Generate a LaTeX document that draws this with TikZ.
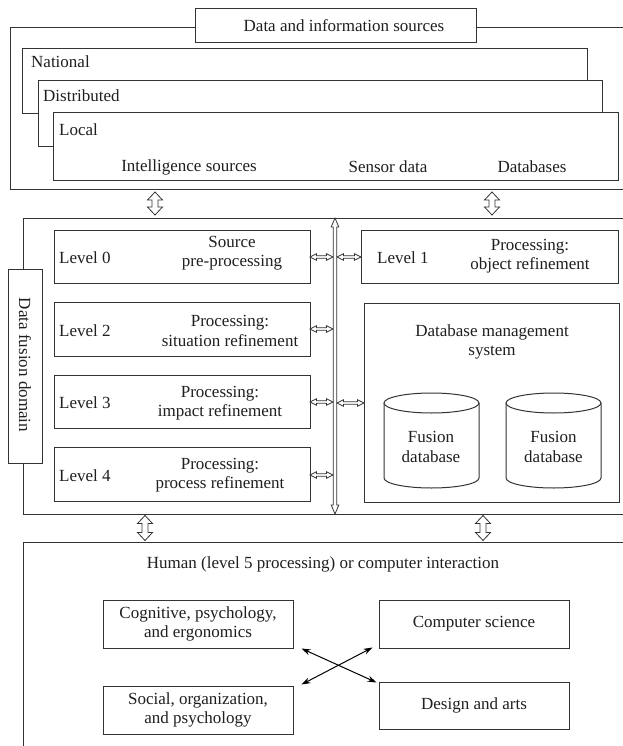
\documentclass[tikz,border=0pt]{standalone}
\usepackage{fontspec}
\setmainfont{Liberation Serif}
\usetikzlibrary{arrows.meta}
\definecolor{linec}{gray}{0.2}
\definecolor{txtc}{gray}{0.12}
% vertical hollow double arrow: cx, cy, half length, half shaft, half head, head length
\newcommand{\vdarrow}[7][]{%
  \draw[arrline,#1] ({#2},{#3-#4}) -- ({#2+#6},{#3-#4+#7}) -- ({#2+#5},{#3-#4+#7})
    -- ({#2+#5},{#3+#4-#7}) -- ({#2+#6},{#3+#4-#7}) -- ({#2},{#3+#4})
    -- ({#2-#6},{#3+#4-#7}) -- ({#2-#5},{#3+#4-#7}) -- ({#2-#5},{#3-#4+#7})
    -- ({#2-#6},{#3-#4+#7}) -- cycle;}
% horizontal hollow double arrow: cx, cy, half length, half shaft, half head, head length
\newcommand{\hdarrow}[7][]{%
  \draw[arrline,#1] ({#2-#4},{#3}) -- ({#2-#4+#7},{#3-#6}) -- ({#2-#4+#7},{#3-#5})
    -- ({#2+#4-#7},{#3-#5}) -- ({#2+#4-#7},{#3-#6}) -- ({#2+#4},{#3})
    -- ({#2+#4-#7},{#3+#6}) -- ({#2+#4-#7},{#3+#5}) -- ({#2-#4+#7},{#3+#5})
    -- ({#2-#4+#7},{#3+#6}) -- cycle;}
\begin{document}
\begin{tikzpicture}[x=1pt,y=-1pt,
  font=\fontsize{17}{19.5}\selectfont,
  every node/.style={text=txtc},
  box/.style={draw=linec, line width=1pt, fill=white, rectangle, inner sep=0pt},
  lbl/.style={inner sep=0pt, align=center},
  llbl/.style={inner sep=0pt, anchor=west},
  arrline/.style={draw=linec, line width=0.8pt, fill=white, line join=miter},
  xarr/.style={draw=black, line width=1pt, {Stealth[length=9pt,width=6pt]}-{Stealth[length=9pt,width=6pt]}}
]
\useasboundingbox (0,0) rectangle (623,746);
\clip (0,0) rectangle (623,746);

% ---------- top section ----------
\node[box, minimum width=630, minimum height=161] (topouter) at (325,108.5) {};
\node[box, minimum width=281, minimum height=34] (title) at (335.5,26) {};
\node[lbl] (titletxt) at (344,26) {Data and information sources};
\node[box, minimum width=565, minimum height=65] (national) at (304.5,81.5) {};
\node[llbl] (nattxt) at (31,62) {National};
\node[box, minimum width=564, minimum height=66] (distributed) at (320,114) {};
\node[llbl] (disttxt) at (43,96) {Distributed};
\node[box, minimum width=565, minimum height=67] (local) at (335.5,146.5) {};
\node[llbl] (loctxt) at (59,130) {Local};
\node[lbl] (intel) at (189,167) {Intelligence sources};
\node[lbl] (sensor) at (388,167) {Sensor data};
\node[lbl] (dbs) at (532,167) {Databases};

\vdarrow{155}{203.5}{11.5}{3}{7.5}{8}
\vdarrow{492}{203.5}{11.5}{3}{7.5}{8}

% ---------- middle section ----------
\node[box, minimum width=617, minimum height=296] (midouter) at (331.5,366) {};
\node[box, minimum width=34, minimum height=194] (dfd) at (25,366) {};
\node[lbl, rotate=-90] (dfdtxt) at (25,365) {Data fusion domain};

\node[box, minimum width=256, minimum height=53] (L0) at (182,256.5) {};
\node[llbl] (L0a) at (59,258) {Level 0};
\node[lbl] (L0b) at (232,253) {Source\\pre-processing};

\node[box, minimum width=256, minimum height=54] (L2) at (182,329) {};
\node[llbl] (L2a) at (59,331) {Level 2};
\node[lbl] (L2b) at (230,331) {Processing:\\situation refinement};

\node[box, minimum width=256, minimum height=53] (L3) at (182,401.5) {};
\node[llbl] (L3a) at (59,403) {Level 3};
\node[lbl] (L3b) at (220,403) {Processing:\\impact refinement};

\node[box, minimum width=256, minimum height=54] (L4) at (182,474) {};
\node[llbl] (L4a) at (59,476) {Level 4};
\node[lbl] (L4b) at (220,475) {Processing:\\process refinement};

\node[box, minimum width=257, minimum height=53] (L1) at (489.5,256.5) {};
\node[llbl] (L1a) at (377,258) {Level 1};
\node[lbl] (L1b) at (530,256) {Processing:\\object refinement};

\node[box, minimum width=255, minimum height=199] (dbms) at (491.5,402.5) {};
\node[lbl] (dbmstxt) at (492,342) {Database management\\system};

% cylinders
\draw[draw=linec, line width=1pt, fill=white] (384,403) -- (384,478)
  arc[start angle=180, end angle=0, x radius=47.5, y radius=10] -- (479,403);
\draw[draw=linec, line width=1pt, fill=white] (431.5,403) ellipse[x radius=47.5, y radius=10];
\node[lbl] (fdb1) at (431,447) {Fusion\\database};
\draw[draw=linec, line width=1pt, fill=white] (506,403) -- (506,478)
  arc[start angle=180, end angle=0, x radius=47.5, y radius=10] -- (601,403);
\draw[draw=linec, line width=1pt, fill=white] (553.5,403) ellipse[x radius=47.5, y radius=10];
\node[lbl] (fdb2) at (553.5,447) {Fusion\\database};

% bus and small arrows
\vdarrow{335}{366}{148}{1.7}{3.8}{9}
\hdarrow{321.5}{257}{11.5}{1.2}{3.2}{6.5}
\hdarrow{321.5}{329}{11.5}{1.2}{3.2}{6.5}
\hdarrow{321.5}{402}{11.5}{1.2}{3.2}{6.5}
\hdarrow{321.5}{475}{11.5}{1.2}{3.2}{6.5}
\hdarrow{349}{257}{12}{1.2}{3.2}{6.5}
\hdarrow{350.5}{403}{13.5}{1.2}{3.2}{6.5}

\vdarrow{145}{528}{12.5}{3}{7.5}{8}
\vdarrow{483}{528}{12.5}{3}{7.5}{8}

% ---------- bottom section ----------
\node[box, minimum width=617, minimum height=228] (botouter) at (331.5,656) {};
\node[lbl] (humantxt) at (323,564) {Human (level 5 processing) or computer interaction};

\node[box, minimum width=190, minimum height=48, align=center] (cog) at (198,624) {Cognitive, psychology,\\and ergonomics};
\node[box, minimum width=190, minimum height=48, align=center] (cs) at (474,624) {Computer science};
\node[box, minimum width=190, minimum height=48, align=center] (soc) at (198,710) {Social, organization,\\and psychology};
\node[box, minimum width=190, minimum height=47, align=center] (des) at (474,705.5) {Design and arts};

\draw[xarr] ([xshift=8pt]cog.south east) -- ([shift={(-2,1)}]des.north west);
\draw[xarr] ([shift={(-6,-1)}]cs.south west) -- ([shift={(8,-1)}]soc.north east);
\end{tikzpicture}
\end{document}
